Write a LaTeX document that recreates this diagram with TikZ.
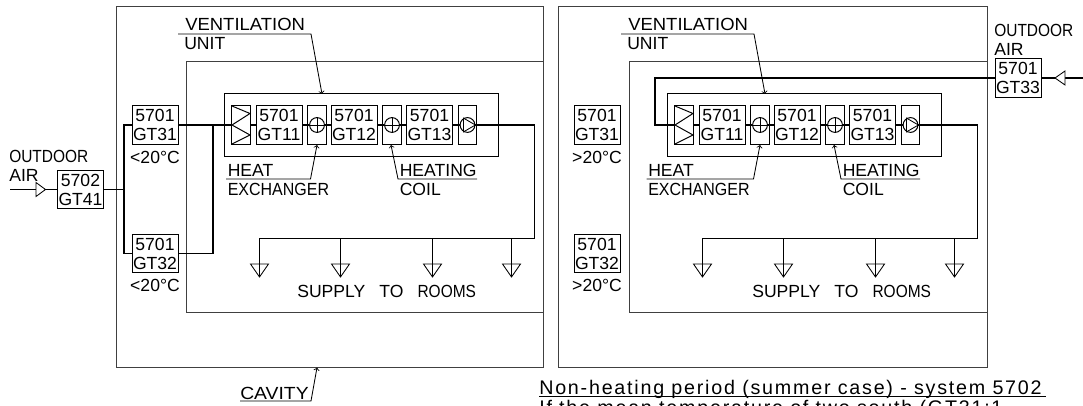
\documentclass[tikz,border=0pt]{standalone}
\usepackage{fontspec}
\setmainfont{Liberation Sans}
\newfontfamily\notefont[LetterSpace=9]{Liberation Sans}
\newcommand{\squeezed}[2]{\scalebox{#1}[1]{#2}}
\tikzset{
  sensor/.style={rectangle,draw,line width=0.6pt,minimum width=1.15cm,minimum height=0.96cm,inner sep=0pt,align=center,font=\fontsize{12.5}{13.5}\selectfont},
  device/.style={rectangle,draw,line width=0.7pt,minimum width=0.47cm,minimum height=0.96cm,inner sep=0pt},
  rotor/.style={circle,draw,line width=0.7pt,minimum size=0.37cm,inner sep=0pt},
  tag/.style={anchor=west,inner sep=0pt,font=\fontsize{12.5}{14}\selectfont},
  notetext/.style={anchor=base west,inner sep=0pt,font=\notefont\fontsize{14}{16}\selectfont},
  pipe/.style={line width=0.8pt},
  wall/.style={line width=0.7pt,draw=black!75},
  leader/.style={line width=0.6pt},
}
\begin{document}
\begin{tikzpicture}[x=0.025cm,y=-0.025cm]
    \path[use as bounding box,clip] (0,0) rectangle (1083,406);
    % both panels
    \foreach \side/\dx/\ox/\rx/\hx/\sx in {l/0/116/543/227.5/297,r/443/558/987/648/752} {
        \draw[wall] (\ox,6) rectangle (\rx,367);
        \draw[wall] (\rx,61) -- (186+\dx,61) -- (186+\dx,312) -- (\rx,312);
        \node[rectangle,draw,line width=0.7pt,minimum width=6.83cm,minimum height=1.55cm] at (361.5+\dx,125) (\side unit) {};
        \node[device] at (241+\dx,125) (\side exch) {};
        \draw[line width=0.7pt] (232+\dx,106) -- (250+\dx,113.5) -- (232+\dx,125) -- (250+\dx,135) -- (232+\dx,144);
        \node[sensor] at (279+\dx,125) (\side gt11) {5701\\GT11};
        \node[device] at (317+\dx,125) (\side hxbox) {};
        \node[rotor] at (317+\dx,125) (\side hx) {};
        \node[sensor] at (354+\dx,125) (\side gt12) {5701\\GT12};
        \node[device] at (392+\dx,125) (\side coilbox) {};
        \node[rotor] at (392+\dx,125) (\side coil) {};
        \node[sensor] at (429.5+\dx,125) (\side gt13) {5701\\GT13};
        \node[device] at (467.5+\dx,125) (\side pumpbox) {};
        \node[rotor] at (467.5+\dx,125) (\side pump) {};
        \draw[leader] (\side hx.north) -- (\side hx.south);
        \draw[leader] (\side hx.west) -- (\side hx.east);
        \draw[leader] (\side coil.north) -- (\side coil.south);
        \draw[leader] (\side coil.west) -- (\side coil.east);
        \draw[leader] (\side pump.120) -- (\side pump.0) -- (\side pump.240) -- cycle;
        \draw[pipe] (\side exch) -- (\side gt11);
        \draw[pipe] (\side gt11) -- (\side hx);
        \draw[pipe] (\side hx) -- (\side gt12);
        \draw[pipe] (\side gt12) -- (\side coil);
        \draw[pipe] (\side coil) -- (\side gt13);
        \draw[pipe] (\side gt13) -- (\side pump);
        % supply line and the drops to the rooms
        \coordinate (\side out) at (534.5+\dx,125);
        \coordinate (\side sup) at (534.5+\dx,238.5);
        \coordinate (\side d1) at (259.5+\dx,277);
        \coordinate (\side d2) at (340.5+\dx,277);
        \coordinate (\side d3) at (432.5+\dx,277);
        \coordinate (\side d4) at (511.5+\dx,277);
        \draw[pipe] (\side pump.east) -- (\side out) -- (\side sup) -- (\side sup -| \side d1) -- (\side d1);
        \foreach \i in {2,3,4} {
            \draw[pipe] (\side sup -| \side d\i) -- (\side d\i);
        }
        \foreach \i in {1,2,3,4} {
            \draw[leader] (\side d\i) -- ++(-9,-13) -- ++(18,0) -- cycle;
        }
        \node[tag] at (\sx,291) (\side rooms) {SUPPLY\hspace{0.8em}TO\hspace{0.8em}\squeezed{0.88}{ROOMS}};
        % labels with leaders
        \node[tag] at (185+\dx,24) (\side vent) {\squeezed{1.05}{VENTILATION}};
        \node[tag] at (184+\dx,44) (\side vunit) {UNIT};
        \coordinate (\side va) at (178+\dx,34);
        \coordinate (\side vb) at (311+\dx,34);
        \coordinate (\side vc) at (322+\dx,94);
        \draw[leader,->] (\side va) -- (\side vb) -- (\side vc);
        \node[tag] at (\hx,170) (\side heat) {HEAT};
        \node[tag] at (\hx,189) (\side exchanger) {\squeezed{0.91}{EXCHANGER}};
        \coordinate (\side ha) at (\hx-1.5,179);
        \coordinate (\side hb) at (310.5+\dx,179);
        \coordinate (\side hc) at (317+\dx,145);
        \draw[leader,->] (\side ha) -- (\side hb) -- (\side hc);
        \node[tag] at (399.5+\dx,170) (\side heating) {HEATING};
        \node[tag] at (399.5+\dx,189) (\side coiltxt) {COIL};
        \coordinate (\side ca) at (477+\dx,179);
        \coordinate (\side cb) at (398+\dx,179);
        \coordinate (\side cc) at (391+\dx,145);
        \draw[leader,->] (\side ca) -- (\side cb) -- (\side cc);
    }
    % duct sensors in the cavity
    \foreach \side/\tx/\cmp in {l/155/<,r/597/>} {
        \node[sensor] at (\tx,125) (\side gt31) {5701\\GT31};
        \node[sensor] at (\tx,253.5) (\side gt32) {5701\\GT32};
        \node[tag,anchor=center] at (\tx,157) (\side t31) {\cmp 20°C};
        \node[tag,anchor=center] at (\tx,285) (\side t32) {\cmp 20°C};
    }
    % outdoor air, left
    \node[sensor] at (80.5,189.5) (gt41) {5702\\GT41};
    \node[tag] at (9,156) (louttxt) {\squeezed{0.88}{OUTDOOR}};
    \node[tag] at (9,175) (lairtxt) {AIR};
    \coordinate (linlet) at (10,189.5);
    \coordinate (lbus) at (124,189.5);
    \coordinate (lriser) at (213,125);
    \draw[pipe] (linlet) -- (gt41);
    \draw[leader,fill=white] (36,182.5) -- (45.5,189.5) -- (36,196.5) -- cycle;
    \draw[pipe] (gt41) -- (lbus);
    \draw[pipe] (lgt31) -- (lgt31 -| lbus) -- (lgt32 -| lbus) -- (lgt32);
    \draw[pipe] (lgt31) -- (lexch);
    \draw[pipe] (lriser) -- (lriser |- lgt32) -- (lgt32);
    % outdoor air, right
    \node[sensor] at (1018,78) (gt33) {5701\\GT33};
    \node[tag] at (994,30) (routtxt) {\squeezed{0.88}{OUTDOOR}};
    \node[tag] at (994,49.5) (rairtxt) {AIR};
    \coordinate (rinlet) at (1083,78);
    \coordinate (rtop) at (655,78);
    \draw[pipe] (rinlet) -- (gt33);
    \draw[leader,fill=white] (1065,71) -- (1055,78) -- (1065,85) -- cycle;
    \draw[pipe] (gt33) -- (rtop) -- (rtop |- rexch) -- (rexch);
    % bottom texts
    \node[tag] at (240,393) (cavity) {\squeezed{1.1}{CAVITY}};
    \coordinate (cava) at (240,401);
    \coordinate (cavb) at (311,401);
    \coordinate (cavc) at (317,367.5);
    \draw[leader,->] (cava) -- (cavb) -- (cavc);
    \node[notetext] at (539,394) (note1) {Non-heating period (summer case) - system 5702};
    \node[notetext] at (539,414) (note2) {If the mean temperature of two south (GT31:1};
    \coordinate (notea) at (539,396.5);
    \coordinate (noteb) at (1046,396.5);
    \draw[line width=0.9pt] (notea) -- (noteb);
\end{tikzpicture}
\end{document}
